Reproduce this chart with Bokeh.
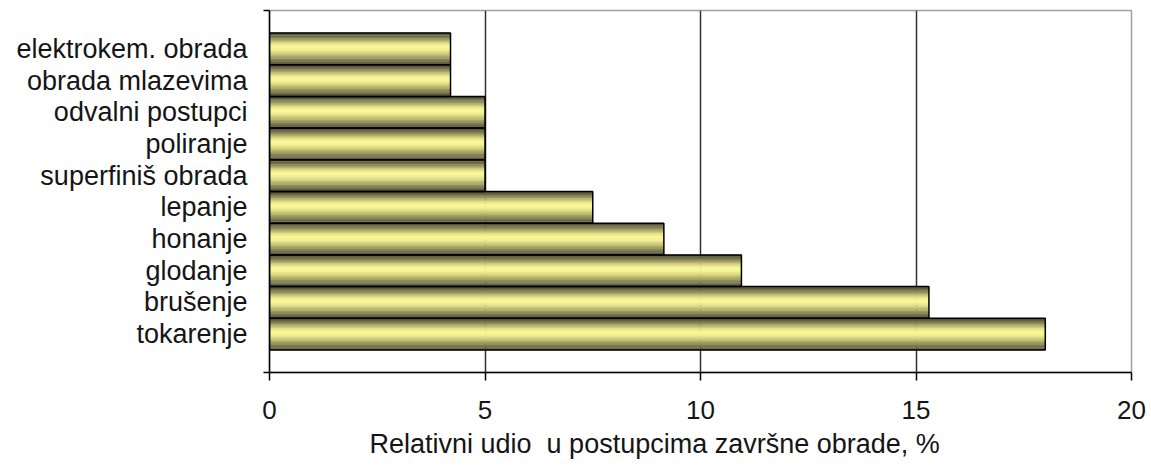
from bokeh.plotting import figure
from bokeh.models import Range1d, FixedTicker, Title
from bokeh.embed import file_html
from bokeh.resources import INLINE

categories = ["elektrokem. obrada", "obrada mlazevima", "odvalni postupci", "poliranje",
              "superfiniš obrada", "lepanje", "honanje", "glodanje", "brušenje", "tokarenje"]
values = [4.2, 4.2, 5.0, 5.0, 5.0, 7.5, 9.15, 10.95, 15.3, 18.0]
x_ticks = [0, 5, 10, 15, 20]
grid_ticks = [5, 10, 15]
x_title = "Relativni udio\u00a0 u postupcima završne obrade, %"

n = len(categories)
pos = [n - 1 - i for i in range(n)]
pad = 0.71
y_lo, y_hi = -0.5 - pad, n - 0.5 + pad

FONT = "Liberation Sans"
TXT = "#151515"

p = figure(width=1151, height=466, output_backend="svg", toolbar_location=None,
           x_range=Range1d(0, 20), y_range=Range1d(y_lo, y_hi),
           min_border_left=269, min_border_right=20, min_border_top=10, min_border_bottom=94)
p.background_fill_color = "white"
p.border_fill_color = "white"
p.outline_line_color = "#a0a0a0"
p.outline_line_width = 1.5

# gradient stops (fraction from top of bar, rgb)
stops = [(0.00, (70, 70, 48)), (0.10, (105, 104, 70)), (0.22, (165, 162, 98)),
         (0.34, (228, 224, 134)), (0.43, (250, 247, 150)), (0.52, (246, 243, 146)),
         (0.64, (214, 210, 124)), (0.78, (160, 157, 96)), (0.90, (115, 113, 76)),
         (1.00, (85, 84, 58))]

def shade(t):
    for (t0, c0), (t1, c1) in zip(stops[:-1], stops[1:]):
        if t0 <= t <= t1:
            f = (t - t0) / (t1 - t0)
            return "#%02x%02x%02x" % tuple(int(round(a + (b - a) * f)) for a, b in zip(c0, c1))
    return "#%02x%02x%02x" % stops[-1][1]

N = 40
for k in range(N):
    t = (k + 0.5) / N
    ys = [y + 0.5 - t for y in pos]
    p.hbar(y=ys, left=0, right=values, height=1.0 / N * 1.6,
           fill_color=shade(t), line_color=None)

p.hbar(y=pos, left=0, right=values, height=1.0, fill_color=None,
       line_color="black", line_width=1.5)

p.ygrid.visible = False
p.xgrid.ticker = FixedTicker(ticks=grid_ticks)
p.xgrid.grid_line_color = "#303030"
p.xgrid.grid_line_width = 1.5

xa = p.xaxis[0]
xa.ticker = FixedTicker(ticks=x_ticks)
xa.axis_line_color = "black"
xa.axis_line_width = 1.5
xa.major_tick_line_color = "black"
xa.major_tick_line_width = 1.5
xa.major_tick_out = 8
xa.major_tick_in = 0
xa.minor_tick_line_color = None
xa.major_label_standoff = 20
xa.major_label_text_font = FONT
xa.major_label_text_font_size = "26px"
xa.major_label_text_color = TXT

title = Title(text=x_title, align="left", offset=100, standoff=10,
              text_font=FONT, text_font_size="27px", text_font_style="normal",
              text_color=TXT)
p.add_layout(title, "below")

ya = p.yaxis[0]
ya.ticker = FixedTicker(ticks=pos, minor_ticks=[y_lo, y_hi])
ya.major_label_overrides = {y: c for y, c in zip(pos, categories)}
ya.axis_line_color = "black"
ya.axis_line_width = 1.5
ya.major_tick_out = 0
ya.major_tick_in = 0
ya.major_tick_line_color = None
ya.minor_tick_line_color = "black"
ya.minor_tick_line_width = 1.5
ya.minor_tick_out = 6
ya.minor_tick_in = 0
ya.major_label_standoff = 16
ya.major_label_text_font = FONT
ya.major_label_text_font_size = "27px"
ya.major_label_text_color = TXT

open("out.html", "w").write(file_html(p, INLINE))
